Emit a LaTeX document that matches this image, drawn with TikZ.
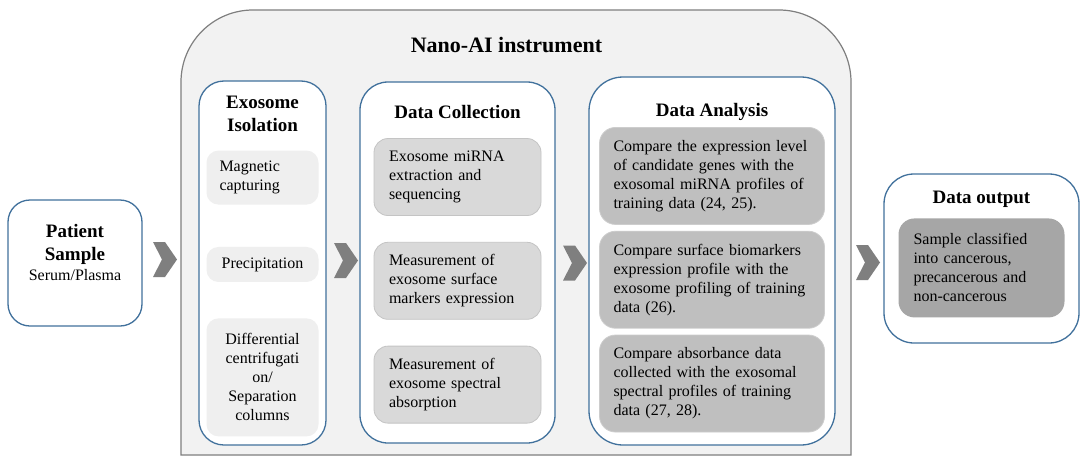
\documentclass[tikz,border=0pt]{standalone}
\usepackage{fontspec}
\setmainfont{Liberation Serif}
\usepackage{xcolor}
\usepackage{tikz}
\usetikzlibrary{positioning}
\definecolor{framebg}{HTML}{F2F2F2}
\definecolor{framedraw}{HTML}{7F7F7F}
\definecolor{colblue}{HTML}{41719C}
\definecolor{isofill}{HTML}{EFEFEF}
\definecolor{dcfill}{HTML}{D9D9D9}
\definecolor{dcdraw}{HTML}{C4C4C4}
\definecolor{dafill}{HTML}{BFBFBF}
\definecolor{dadraw}{HTML}{CDCDCD}
\definecolor{outfill}{HTML}{A6A6A6}
\definecolor{chevgray}{HTML}{7F7F7F}
\newcommand\ttlfont{\fontsize{19}{23}\selectfont\bfseries}
\newcommand\bdyfont{\fontsize{16}{19}\selectfont\mdseries}
\tikzset{
  frame/.style={draw=framedraw, line width=1.2pt, fill=framebg},
  maintitle/.style={font=\fontsize{22}{26}\selectfont\bfseries, inner sep=0pt},
  colbox/.style={draw=colblue, line width=1.3pt, fill=white, rounded corners=28pt, inner sep=0pt},
  coltitle/.style={font=\ttlfont, align=center, inner sep=0pt},
  isobox/.style={fill=isofill, rounded corners=12pt, font=\bdyfont, text width=86pt,
    inner xsep=13pt, inner ysep=2pt, align=center},
  dcbox/.style={draw=dcdraw, line width=0.8pt, fill=dcfill, rounded corners=14pt, font=\bdyfont,
    text width=137pt, inner xsep=15pt, inner ysep=2pt, minimum height=77pt, align=left},
  dabox/.style={draw=dadraw, line width=0.8pt, fill=dafill, rounded corners=16pt, font=\bdyfont,
    text width=197pt, inner xsep=14pt, inner ysep=2pt, minimum height=97pt, align=left},
  outbox/.style={fill=outfill, rounded corners=16pt, font=\bdyfont,
    text width=136pt, inner xsep=15pt, inner ysep=2pt, minimum height=99pt, align=left},
  chev/.style={fill=chevgray}
}
\newcommand\chevron[1]{\fill[chev] (#1) ++(-12,-17.5) -- ++(12,0) -- ++(12,17.5)
  -- ++(-12,17.5) -- ++(-12,0) -- ++(9,-17.5) -- cycle;}
\begin{document}
\begin{tikzpicture}[x=1pt, y=-1pt]
  \useasboundingbox[fill=white] (0,0) rectangle (1084,463);

  % instrument frame
  \draw[frame] (181,455) [rounded corners=72pt] -- (181,10) -- (851,10) [sharp corners] -- (851,455) -- cycle;
  \node[maintitle, anchor=base] (nano) at (506.5,52) {Nano-AI instrument};

  % patient sample
  \node[colbox, rounded corners=22pt, minimum width=134pt, minimum height=126pt] (pat) at (75,263) {};
  \node[coltitle] (patlbl) at (75,252) {Patient\\Sample\\[-3pt]{\bdyfont Serum/Plasma}};

  % columns
  \node[colbox, rounded corners=25pt, minimum width=127pt, minimum height=364pt] (iso) at (262.5,263) {};
  \node[colbox, minimum width=195pt, minimum height=361pt] (dc) at (457.5,262.5) {};
  \node[colbox, rounded corners=34pt, minimum width=246pt, minimum height=368pt] (da) at (712,261) {};
  \node[colbox, rounded corners=30pt, minimum width=195pt, minimum height=169pt] (out) at (981.5,258.5) {};

  % exosome isolation
  \node[coltitle, below=16pt of iso.north] (isot) {Exosome\\Isolation};
  \node[isobox, align=left, minimum height=54pt, below=18pt of isot] (iso1) {Magnetic\\capturing};
  \node[isobox, minimum height=35pt, below=42pt of iso1] (iso2) {Precipitation};
  \node[isobox, minimum height=118pt, below=36pt of iso2] (iso3) {Differential\\centrifugati\\on/\\Separation\\columns};

  % data collection
  \node[coltitle, below=24pt of dc.north] (dct) {Data Collection};
  \node[dcbox, below=19pt of dct] (dc1) {Exosome miRNA\\extraction and\\sequencing};
  \node[dcbox, below=26pt of dc1] (dc2) {Measurement of\\exosome surface\\markers expression};
  \node[dcbox, below=26pt of dc2] (dc3) {Measurement of\\exosome spectral\\absorption};

  % data analysis
  \node[coltitle, below=27pt of da.north] (dat) {Data Analysis};
  \node[dabox, below=6pt of dat] (da1) {Compare the expression level\\of candidate genes with the\\exosomal miRNA profiles of\\training data (24, 25).};
  \node[dabox, below=6pt of da1] (da2) {Compare surface biomarkers\\expression profile with the\\exosome profiling of training\\data (26).};
  \node[dabox, below=6pt of da2] (da3) {Compare absorbance data\\collected with the exosomal\\spectral profiles of training\\data (27, 28).};

  % data output
  \node[coltitle, below=18pt of out.north] (outt) {Data output};
  \node[outbox, below=10pt of outt] (out1) {Sample classified\\into cancerous,\\precancerous and\\non-cancerous};

  % chevrons
  \coordinate (ch1) at (165,259.5);
  \coordinate (ch2) at (346,260.5);
  \coordinate (ch3) at (575,263);
  \coordinate (ch4) at (868,262.5);
  \chevron{ch1}
  \chevron{ch2}
  \chevron{ch3}
  \chevron{ch4}
\end{tikzpicture}
\end{document}
